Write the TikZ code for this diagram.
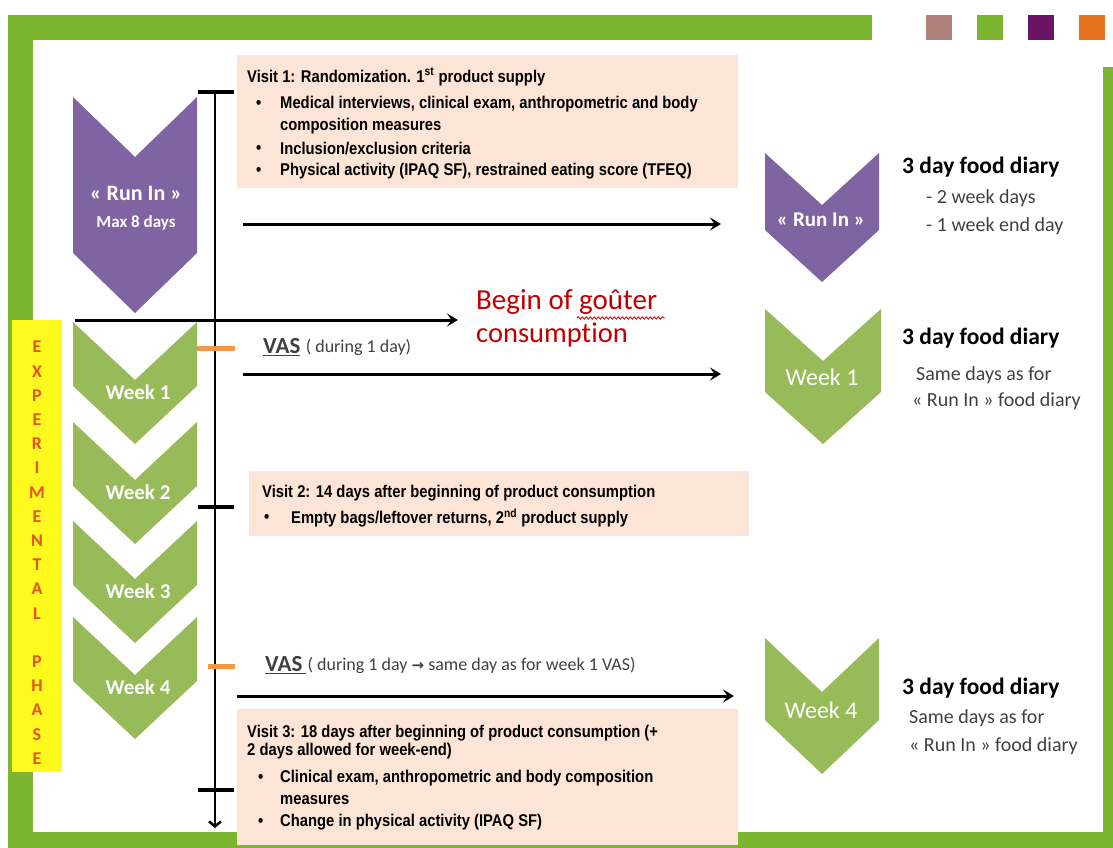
\documentclass[tikz,border=0pt]{standalone}
\usepackage{fontspec}
\setmainfont{Carlito}[RawFeature=-liga]
\newfontfamily\narrowfont[FakeStretch=0.87]{Liberation Sans}
\newfontfamily\arrowfont{DejaVu Sans}
\usetikzlibrary{arrows.meta,decorations.pathmorphing}
\tikzset{>={Stealth[length=11pt,width=13pt,inset=4.5pt]}}

\definecolor{framegreen}{RGB}{124,181,48}
\definecolor{wkgreen}{RGB}{152,187,90}
\definecolor{runpurple}{RGB}{128,100,162}
\definecolor{peach}{RGB}{252,228,214}
\definecolor{phaseyellow}{RGB}{255,250,30}
\definecolor{phaseorange}{RGB}{228,84,30}
\definecolor{vasorange}{RGB}{245,150,72}
\definecolor{gouterred}{RGB}{192,0,0}
\definecolor{notegray}{RGB}{64,64,64}
\definecolor{sqmauve}{RGB}{176,128,122}
\definecolor{sqpurple}{RGB}{108,20,100}
\definecolor{sqorange}{RGB}{230,115,30}

\tikzset{
  vtext/.style={anchor=west,inner sep=0pt,font=\narrowfont\bfseries\fontsize{17}{20}\selectfont},
  wklab/.style={text=white,inner sep=0pt,font=\bfseries\fontsize{21}{24}\selectfont},
  diary/.style={anchor=west,inner sep=0pt,font=\bfseries\fontsize{23.5}{26}\selectfont},
  dnote/.style={anchor=west,inner sep=0pt,text=notegray,font=\fontsize{20}{23}\selectfont},
  phase/.style={inner sep=0pt,text=phaseorange,font=\bfseries\fontsize{18}{20}\selectfont},
  timearrow/.style={line width=3pt,->},
  tick/.style={line width=4pt},
  vastick/.style={line width=5pt,vasorange}
}

\begin{document}
\begin{tikzpicture}[x=1pt,y=-1pt]
\useasboundingbox (0,0) rectangle (1113,848);

% green frame and the four squares
\fill[framegreen] (8,15) rectangle (872,40);
\fill[framegreen] (8,15) rectangle (33,848);
\fill[framegreen] (8,832) rectangle (1113,848);
\fill[framegreen] (1103,67) rectangle (1113,848);
\foreach \c/\xx in {sqmauve/926,framegreen/977,sqpurple/1028,sqorange/1079}
  \fill[\c] (\xx,15) rectangle +(26,25);

% visit boxes
\fill[peach] (237,55) rectangle (738,188);
\fill[peach] (249,471) rectangle (749,536);
\fill[peach] (237,709) rectangle (738,845);

% experimental phase bar
\fill[phaseyellow] (12,320) rectangle (62,772);
\foreach \ch [count=\i from 0] in {E,X,P,E,R,I,M,E,N,T,A,L}
  \node[phase] (ph\i) at (37,347+24.2*\i) {\ch};
\foreach \ch [count=\i from 13] in {P,H,A,S,E}
  \node[phase] (ph\i) at (37,347+24.2*\i) {\ch};

% left chevrons
\fill[runpurple] (73,97) -- ++(62,60) -- ++(62,-60) -- ++(0,156) -- ++(-62,60) -- ++(-62,-60) -- cycle;
\node[wklab,font=\bfseries\fontsize{22}{24}\selectfont] (runin) at (136,193) {« Run In »};
\node[wklab,font=\bfseries\fontsize{17}{20}\selectfont] (maxdays) at (136,223) {Max 8 days};
\foreach \ty/\lab in {322/Week 1,422/Week 2,521/Week 3,617/Week 4}{
  \fill[wkgreen] (73,\ty) -- ++(62,58) -- ++(62,-58) -- ++(0,64) -- ++(-62,58) -- ++(-62,-58) -- cycle;
  \node[wklab] (w\ty) at (138,\ty+70) {\lab};
}

% right chevrons
\fill[runpurple] (765,153) -- ++(57,52) -- ++(57,-52) -- ++(0,77) -- ++(-57,52) -- ++(-57,-52) -- cycle;
\node[wklab,font=\bfseries\fontsize{21}{24}\selectfont] (rrun) at (821,220) {« Run In »};
\fill[wkgreen] (765,309) -- ++(58,52) -- ++(58,-52) -- ++(0,83) -- ++(-58,52) -- ++(-58,-52) -- cycle;
\node[wklab,font=\fontsize{24}{27}\selectfont] (rwk1) at (822,377) {Week 1};
\fill[wkgreen] (765,638) -- ++(57,54) -- ++(57,-54) -- ++(0,82) -- ++(-57,54) -- ++(-57,-54) -- cycle;
\node[wklab,font=\fontsize{24}{27}\selectfont] (rwk4) at (821,710) {Week 4};

% time line
\coordinate (ttop) at (215,92);
\coordinate (tbot) at (215,828);
\draw[line width=2.5pt,-{Straight Barb[length=5pt,width=12pt]}] (ttop) -- (tbot);
\draw[tick] (198,92) -- (234,92);
\draw[tick] (198,507) -- (234,507);
\draw[tick] (198,790) -- (234,790);
\draw[vastick] (197,348) -- (235,348);
\draw[vastick] (208,666) -- (235,666);

% arrows
\coordinate (a1) at (243,224);
\coordinate (a1e) at (721,224);
\coordinate (a2) at (75,320);
\coordinate (a2e) at (458,320);
\coordinate (a3) at (243,374);
\coordinate (a3e) at (721,374);
\coordinate (a4) at (237,696);
\coordinate (a4e) at (734,696);
\draw[timearrow] (a1) -- (a1e);
\draw[timearrow] (a2) -- (a2e);
\draw[timearrow] (a3) -- (a3e);
\draw[timearrow] (a4) -- (a4e);

% visit 1
\node[vtext] (v1h) at (247,77) {Visit 1: Randomization. 1\textsuperscript{st} product supply};
\node[vtext] (v1a) at (280,104) {Medical interviews, clinical exam, anthropometric and body};
\node[vtext] (v1b) at (280,126) {composition measures};
\node[vtext] (v1c) at (280,149) {Inclusion/exclusion criteria};
\node[vtext] (v1d) at (280,171) {Physical activity (IPAQ SF), restrained eating score (TFEQ)};
\foreach \yy in {104,149,171}
  \node[vtext] (v1dot\yy) at (256,\yy) {\textbullet};

% visit 2
\node[vtext] (v2h) at (262,493) {Visit 2: 14 days after beginning of product consumption};
\node[vtext] (v2a) at (291,518) {Empty bags/leftover returns, 2\textsuperscript{nd} product supply};
\node[vtext] (v2dot) at (264,518) {\textbullet};

% visit 3
\node[vtext] (v3h) at (247,733) {Visit 3: 18 days after beginning of product consumption (+};
\node[vtext] (v3h2) at (247,751) {2 days allowed for week-end)};
\node[vtext] (v3a) at (280,778) {Clinical exam, anthropometric and body composition};
\node[vtext] (v3b) at (280,800) {measures};
\node[vtext] (v3c) at (280,822) {Change in physical activity (IPAQ SF)};
\foreach \yy in {778,822}
  \node[vtext] (v3dot\yy) at (258,\yy) {\textbullet};

% VAS
\node[anchor=west,inner sep=0pt,font=\bfseries\fontsize{23}{26}\selectfont,text=notegray] (vas1) at (263,347) {\underline{VAS}};
\node[anchor=west,inner sep=0pt,font=\fontsize{18}{21}\selectfont,text=notegray] (vas1n) at ([xshift=5pt]vas1.east) {( during 1 day)};
\node[anchor=west,inner sep=0pt,font=\bfseries\fontsize{23}{26}\selectfont,text=notegray] (vas2) at (265,665) {\underline{VAS\,}};
\node[anchor=west,inner sep=0pt,font=\fontsize{18}{21}\selectfont,text=notegray] (vas2n) at ([xshift=1pt]vas2.east) {( during 1 day {\arrowfont\bfseries\fontsize{15}{17}\selectfont →} same day as for week 1 VAS)};

% begin of gouter
\node[anchor=west,inner sep=0pt,text=gouterred,font=\fontsize{29}{32}\selectfont] (gout) at (476,302) {Begin of goûter};
\node[anchor=west,inner sep=0pt,text=gouterred,font=\fontsize{28.5}{32}\selectfont] (cons) at (476,335) {consumption};
\draw[gouterred,line width=0.8pt,decorate,decoration={snake,amplitude=1.2pt,segment length=4pt}] (577,318) -- (665,318);

% food diaries
\node[diary] (fd1) at (902,167) {3 day food diary};
\node[dnote] (fd1a) at (926,198) {- 2 week days};
\node[dnote] (fd1b) at (926,226) {- 1 week end day};
\node[diary] (fd2) at (902,338) {3 day food diary};
\node[dnote] (fd2a) at (916,375) {Same days as for};
\node[dnote] (fd2b) at (912,401) {«\ Run In\ » food diary};
\node[diary] (fd3) at (902,688) {3 day food diary};
\node[dnote] (fd3a) at (909,718) {Same days as for};
\node[dnote] (fd3b) at (909,746) {«\ Run In\ » food diary};

\end{tikzpicture}
\end{document}
